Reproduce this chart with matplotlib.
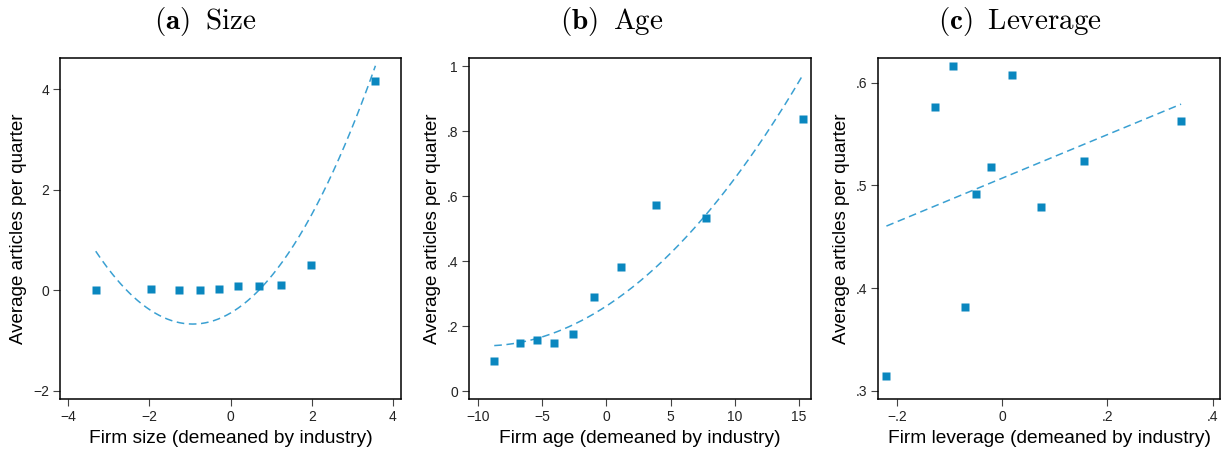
import matplotlib
matplotlib.use("Agg")
import matplotlib.pyplot as plt
import numpy as np

plt.rcParams["font.family"] = ["Liberation Sans", "DejaVu Sans"]
plt.rcParams["mathtext.fontset"] = "cm"

# Binned scatter points
size_x = [-3.32, -1.96, -1.28, -0.75, -0.28, 0.19, 0.69, 1.25, 1.99, 3.57]
size_y = [0.00, 0.03, 0.01, 0.01, 0.03, 0.085, 0.085, 0.105, 0.50, 4.17]

age_x = [-8.75, -6.73, -5.40, -4.08, -2.60, -0.96, 1.15, 3.87, 7.77, 15.33]
age_y = [0.094, 0.147, 0.159, 0.147, 0.177, 0.289, 0.383, 0.574, 0.534, 0.837]

lev_x = [-0.220, -0.128, -0.094, -0.071, -0.050, -0.022, 0.018, 0.073, 0.155, 0.340]
lev_y = [0.314, 0.576, 0.616, 0.382, 0.492, 0.518, 0.607, 0.479, 0.524, 0.563]

# Fitted polynomial coefficients (highest power first)
size_fit = [0.2536, 0.4717, -0.4507]
age_fit = [0.001349, 0.02571, 0.262]
lev_fit = [0.212, 0.507]

panels = [
    dict(title=r"$\mathbf{(a)}\ \:\mathrm{Size}$", x=size_x, y=size_y, fit=size_fit,
         xlabel="Firm size (demeaned by industry)",
         xlim=(-4.2, 4.2), ylim=(-2.16, 4.62),
         xticks=[-4, -2, 0, 2, 4], xtl=["\u22124", "\u22122", "0", "2", "4"],
         yticks=[-2, 0, 2, 4], ytl=["\u22122", "0", "2", "4"]),
    dict(title=r"$\mathbf{(b)}\ \:\mathrm{Age}$", x=age_x, y=age_y, fit=age_fit,
         xlabel="Firm age (demeaned by industry)",
         xlim=(-10.72, 15.96), ylim=(-0.024, 1.025),
         xticks=[-10, -5, 0, 5, 10, 15], xtl=["\u221210", "\u22125", "0", "5", "10", "15"],
         yticks=[0, 0.2, 0.4, 0.6, 0.8, 1], ytl=["0", ".2", ".4", ".6", ".8", "1"]),
    dict(title=r"$\mathbf{(c)}\ \:\mathrm{Leverage}$", x=lev_x, y=lev_y, fit=lev_fit,
         xlabel="Firm leverage (demeaned by industry)",
         xlim=(-0.236, 0.414), ylim=(0.292, 0.624),
         xticks=[-0.2, 0, 0.2, 0.4], xtl=["\u2212.2", "0", ".2", ".4"],
         yticks=[0.3, 0.4, 0.5, 0.6], ytl=[".3", ".4", ".5", ".6"]),
]

fig = plt.figure(figsize=(12.25, 4.5), dpi=100)
lefts = [60, 469, 878]
widths = [341, 342, 342]
centers = [205, 612, 1020]
for p, l, w, c in zip(panels, lefts, widths, centers):
    ax = fig.add_axes([l / 1225, (450 - 399) / 450, w / 1225, 341 / 450])
    xs = np.linspace(min(p["x"]), max(p["x"]), 200)
    ax.plot(xs, np.polyval(p["fit"], xs), ls=(0, (5, 3)), color="#3aa0d2", lw=1.1)
    ax.plot(p["x"], p["y"], "s", color="#0a87bf", ms=6, mec="none")
    ax.set_xlim(p["xlim"])
    ax.set_ylim(p["ylim"])
    ax.set_xticks(p["xticks"])
    ax.set_xticklabels(p["xtl"])
    ax.set_yticks(p["yticks"])
    ax.set_yticklabels(p["ytl"])
    ax.tick_params(labelsize=10, length=5, width=0.8, color="#444444",
                   labelcolor="#222222", pad=3)
    for s in ax.spines.values():
        s.set_linewidth(1.1)
    ax.set_xlabel(p["xlabel"], fontsize=13.8, labelpad=4)
    ax.set_ylabel("Average articles per quarter", fontsize=13.5, labelpad=4)
    fig.text(c / 1225, 1 - 22 / 450, p["title"], fontsize=21, ha="center", va="center")

fig.savefig("out.png", dpi=100)
